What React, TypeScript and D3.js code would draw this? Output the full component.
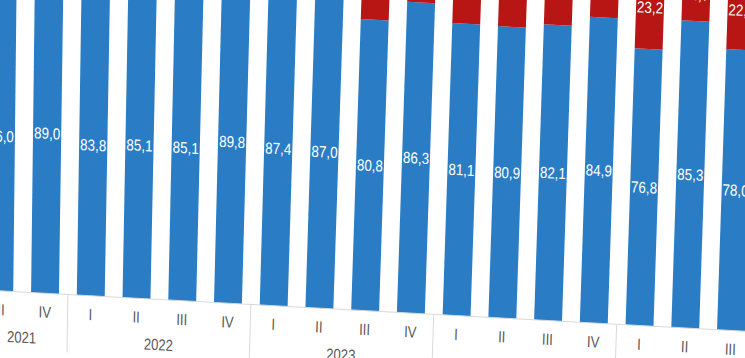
import React from 'react';
import * as d3 from 'd3';

const categories = [
  '2021-III', '2021-IV',
  '2022-I', '2022-II', '2022-III', '2022-IV',
  '2023-I', '2023-II', '2023-III', '2023-IV',
  '2024-I', '2024-II', '2024-III', '2024-IV',
  '2025-I', '2025-II', '2025-III',
];
const quarterLabels = ['III', 'IV', 'I', 'II', 'III', 'IV', 'I', 'II', 'III', 'IV', 'I', 'II', 'III', 'IV', 'I', 'II', 'III'];
const yearLabels = ['2021', '2022', '2023', '2024', '2025'];
const yearCounts = [2, 4, 4, 4, 3];
const blueValues = [86.0, 89.0, 83.8, 85.1, 85.1, 89.8, 87.4, 87.0, 80.8, 86.3, 81.1, 80.9, 82.1, 84.9, 76.8, 85.3, 78.0];
const redValues = [14.0, 11.0, 16.2, 14.9, 14.9, 10.2, 12.6, 13.0, 19.2, 13.7, 18.9, 19.1, 17.9, 15.1, 23.2, 14.7, 22.0];

const W = 745;
const H = 358;
const BLUE = '#2A7DC4';
const RED = '#B81515';
const GRAY = '#595959';
const FONT = "'Liberation Sans', Arial, sans-serif";

const step = 45.73;
const x0 = -0.7 - step / 2;
const x = d3
  .scaleBand<string>()
  .domain(categories)
  .range([x0, x0 + step * categories.length])
  .paddingInner(0.39)
  .paddingOuter(0.195);
const y = d3.scaleLinear().domain([0, 100]).range([0, 360]);

const SLOPE = 0.0542;
const baseY = (u: number) => 293.3 + SLOPE * (u - 45);
const tilt = (u: number) => Math.min(0.033, 0.01 + 0.00007 * u);
const proj = (u: number, hpx: number): [number, number] => [u + tilt(u) * hpx, baseY(u) - hpx];

const fmt = (v: number) => d3.format('.1f')(v).replace('.', ',');

function quad(uL: number, uR: number, h0: number, h1: number) {
  const pts = [proj(uL, h0), proj(uR, h0), proj(uR, h1), proj(uL, h1)];
  return pts.map((p) => p.join(',')).join(' ');
}

function textTransform(u: number, hpx: number, sx = 0.84) {
  const [X, Y] = proj(u, hpx);
  return `translate(${X},${Y}) matrix(1,${SLOPE},${-tilt(u)},1,0,0) scale(${sx},1)`;
}

// a label is drawn only if some part of it falls inside the picture
const visible = (u: number, hpx: number) => {
  const [X, Y] = proj(u, hpx);
  return Y > -7 && Y < H + 7 && X > -20 && X < W + 20;
};

export default function App() {
  const bw = x.bandwidth();
  const groups: { label: string; first: number; last: number }[] = [];
  let idx = 0;
  yearLabels.forEach((lab, k) => {
    groups.push({ label: lab, first: idx, last: idx + yearCounts[k] - 1 });
    idx += yearCounts[k];
  });
  const center = (i: number) => (x(categories[i]) as number) + bw / 2;
  const boundaries: number[] = [];
  groups.forEach((g, k) => {
    if (k === 0) boundaries.push((x(categories[g.first]) as number) - (step - bw) / 2);
    boundaries.push((x(categories[g.last]) as number) + bw + (step - bw) / 2);
  });
  const axisL = -40;
  const axisR = 780;

  return (
    <svg
      width={W}
      height={H}
      viewBox={`0 0 ${W} ${H}`}
      style={{ position: 'fixed', left: 0, top: 0, background: '#ffffff' }}
    >
      <rect x={0} y={0} width={W} height={H} fill="#ffffff" />
      {categories.map((c, i) => {
        const uL = x(c) as number;
        const uR = uL + bw;
        const b = blueValues[i];
        const r = redValues[i];
        return (
          <g key={c}>
            <polygon points={quad(uL, uR, y(0), y(b))} fill={BLUE} />
            <polygon points={quad(uL, uR, y(b), y(b + r))} fill={RED} />
          </g>
        );
      })}
      {categories.map((c, i) => {
        const u = center(i);
        const b = blueValues[i];
        const r = redValues[i];
        return (
          <g key={'l' + c} fontFamily={FONT} fontSize={16} fill="#ffffff" textAnchor="middle">
            {visible(u, y(b / 2)) && (
              <text transform={textTransform(u, y(b / 2))} dy="0.36em">
                {fmt(b)}
              </text>
            )}
            {visible(u, y(b + r / 2)) && (
              <text transform={textTransform(u, y(b + r / 2))} dy="0.36em">
                {fmt(r)}
              </text>
            )}
          </g>
        );
      })}
      <line
        x1={proj(axisL, 0)[0]}
        y1={proj(axisL, 0)[1]}
        x2={proj(axisR, 0)[0]}
        y2={proj(axisR, 0)[1]}
        stroke="#D9D9D9"
        strokeWidth={1}
      />
      {boundaries.map((u, k) => {
        const [xa, ya] = proj(u, 0);
        const [xb, yb] = proj(u, -58);
        return <line key={'s' + k} x1={xa} y1={ya} x2={xb} y2={yb} stroke="#D9D9D9" strokeWidth={1} />;
      })}
      <g fontFamily={FONT} fontSize={16} fill={GRAY} textAnchor="middle">
        {categories.map((c, i) =>
          visible(center(i), -18.5) ? (
            <text key={'q' + c} transform={textTransform(center(i), -18.5, 0.82)} dy="0.36em">
              {quarterLabels[i]}
            </text>
          ) : null
        )}
        {groups.map((g) => {
          const u = (center(g.first) + center(g.last)) / 2;
          return visible(u, -45) ? (
            <text key={'y' + g.label} transform={textTransform(u, -45, 0.82)} dy="0.36em">
              {g.label}
            </text>
          ) : null;
        })}
      </g>
    </svg>
  );
}
